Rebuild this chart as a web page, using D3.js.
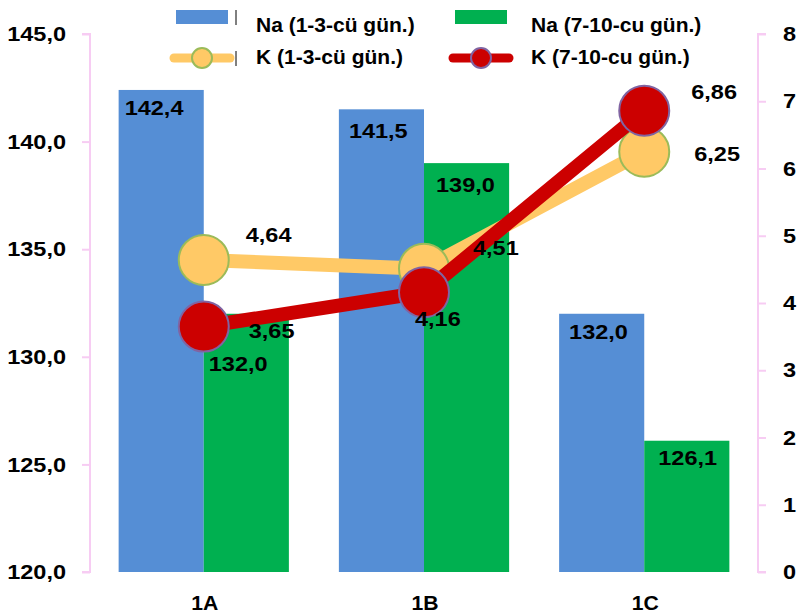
<!DOCTYPE html>
<html>
<head>
<meta charset="utf-8">
<script src="https://cdn.jsdelivr.net/npm/d3@7"></script>
<style>
  body { margin: 0; background: #fff; }
  text { font-family: "Liberation Sans", Arial, sans-serif; font-weight: bold; fill: #000; }
</style>
</head>
<body>
<div id="container"></div>
<script>
const categories = ["1A", "1B", "1C"];
const naEarly = [142.4, 141.5, 132.0];
const naLate = [132.0, 139.0, 126.1];
const kEarly = [4.64, 4.51, 6.25];
const kLate = [3.65, 4.16, 6.86];
const leftTicks = [120, 125, 130, 135, 140, 145];
const rightTicks = [0, 1, 2, 3, 4, 5, 6, 7, 8];

const width = 797;
const height = 613;
const plotLeft = 90;
const plotRight = 758;
const plotTop = 34;
const plotBottom = 572;
const sx = 1.12; // horizontal stretch of numeric labels

const blue = "#558ED5";
const green = "#00B050";
const yellow = "#FFC966";
const red = "#CC0000";
const axisColor = "#F7CCF3";

const svg = d3
  .select("#container")
  .append("svg")
  .attr("width", width)
  .attr("height", height);

const x = d3.scaleBand().domain(categories).range([plotLeft, plotRight]).paddingInner(0.227).paddingOuter(0.13);
const xSub = d3.scaleBand().domain([0, 1]).range([0, x.bandwidth()]);
const yL = d3.scaleLinear().domain([120, 145]).range([plotBottom, plotTop]);
const yR = d3.scaleLinear().domain([0, 8]).range([plotBottom, plotTop]);
const fmt1 = (v) => v.toFixed(1).replace(".", ",");
const fmt2 = (v) => v.toFixed(2).replace(".", ",");

// left axis
const axL = svg.append("g").attr("transform", `translate(${plotLeft},0)`)
  .call(d3.axisLeft(yL).tickValues(leftTicks).tickSize(8).tickFormat(fmt1));
axL.select(".domain").attr("stroke", axisColor).attr("stroke-width", 2).attr("d", `M-8,${plotTop}H0V${plotBottom}H-8`);
axL.selectAll(".tick line").attr("stroke", axisColor).attr("stroke-width", 2);
axL.selectAll(".tick text").attr("x", -24 / sx).attr("transform", `scale(${sx},1)`).attr("font-size", 21)
  .attr("font-family", "Liberation Sans").attr("font-weight", "bold").attr("fill", "#000");

// right axis
const axR = svg.append("g").attr("transform", `translate(${plotRight},0)`)
  .call(d3.axisRight(yR).tickValues(rightTicks).tickSize(8).tickFormat(d3.format("d")));
axR.select(".domain").attr("stroke", axisColor).attr("stroke-width", 2).attr("d", `M8,${plotTop}H0V${plotBottom}H8`);
axR.selectAll(".tick line").attr("stroke", axisColor).attr("stroke-width", 2);
axR.selectAll(".tick text").attr("x", 25 / sx).attr("transform", `scale(${sx},1)`).attr("font-size", 21)
  .attr("font-family", "Liberation Sans").attr("font-weight", "bold").attr("fill", "#000");

// bars
const barSeries = [
  { values: naEarly, color: blue },
  { values: naLate, color: green },
];
barSeries.forEach((s, si) => {
  svg.append("g").selectAll("rect").data(s.values).enter().append("rect")
    .attr("x", (d, i) => x(categories[i]) + xSub(si))
    .attr("y", (d) => yL(d))
    .attr("width", xSub.bandwidth())
    .attr("height", (d) => yL(120) - yL(d))
    .attr("fill", s.color);
});

// category labels
svg.append("g").selectAll("text").data(categories).enter().append("text")
  .attr("transform", (d) => `translate(${x(d) + x.bandwidth() / 2 + 1},610) scale(1.06,1)`)
  .attr("text-anchor", "middle")
  .attr("font-size", 20)
  .text((d) => d);

// lines
const lineSeries = [
  { values: kEarly, color: yellow, stroke: "#9BBB59" },
  { values: kLate, color: red, stroke: "#8064A2" },
];
const cx = (i) => x(categories[i]) + x.bandwidth() / 2;
const line = d3.line().x((d, i) => cx(i)).y((d) => yR(d));
lineSeries.forEach((s) => {
  svg.append("path").datum(s.values)
    .attr("d", line)
    .attr("fill", "none")
    .attr("stroke", s.color)
    .attr("stroke-width", 14)
    .attr("stroke-linejoin", "round");
  svg.append("g").selectAll("circle").data(s.values).enter().append("circle")
    .attr("cx", (d, i) => cx(i))
    .attr("cy", (d) => yR(d))
    .attr("r", 25)
    .attr("fill", s.color)
    .attr("stroke", s.stroke)
    .attr("stroke-width", 2);
});

// bar value labels (baseline offset below bar top)
const barLabelDy = [[25, 29, 25], [57, 29, 24]];
const barLabelDx = [[6, 10, 10], [5, 12, 14]];
barSeries.forEach((s, si) => {
  svg.append("g").selectAll("text").data(s.values).enter().append("text")
    .attr("transform", (d, i) =>
      `translate(${x(categories[i]) + xSub(si) + barLabelDx[si][i]},${yL(d) + barLabelDy[si][i]}) scale(${sx},1)`)
    .attr("font-size", 21)
    .text((d) => fmt1(d));
});

// line value labels
const kEarlyOffset = [[42, -18], [49, -14], [50, 9]];
const kLateOffset = [[45, 11], [-9, 34], [47, -12]];
[[kEarly, kEarlyOffset], [kLate, kLateOffset]].forEach(([vals, offs]) => {
  svg.append("g").selectAll("text").data(vals).enter().append("text")
    .attr("transform", (d, i) => `translate(${cx(i) + offs[i][0]},${yR(d) + offs[i][1]}) scale(${sx},1)`)
    .attr("font-size", 21)
    .text((d) => fmt2(d));
});

// legend
const legendData = [
  { label: "Na (1-3-cü gün.)", color: blue, type: "bar", x: 176, y: 17, tx: 80, ty: 32 },
  { label: "Na (7-10-cu gün.)", color: green, type: "bar", x: 455, y: 17, tx: 76, ty: 32 },
  { label: "K (1-3-cü gün.)", color: yellow, stroke: "#9BBB59", type: "line", x: 174, y: 58, tx: 82, ty: 64 },
  { label: "K (7-10-cu gün.)", color: red, stroke: "#8064A2", type: "line", x: 453, y: 58, tx: 78, ty: 64 },
];
const legend = svg.append("g").attr("id", "legend");
legendData.forEach((d) => {
  const g = legend.append("g").attr("transform", `translate(${d.x},${d.y})`);
  if (d.type === "bar") {
    g.append("rect").attr("x", 0).attr("y", -7).attr("width", 52).attr("height", 14).attr("fill", d.color);
  } else {
    g.append("line").attr("x1", 0).attr("x2", 56).attr("y1", 0).attr("y2", 0)
      .attr("stroke", d.color).attr("stroke-width", 9).attr("stroke-linecap", "round");
    g.append("circle").attr("cx", 28).attr("cy", 0).attr("r", 10)
      .attr("fill", d.color).attr("stroke", d.stroke).attr("stroke-width", 2);
  }
  if (d.x < 300) {
    g.append("line").attr("x1", 236 - d.x).attr("x2", 236 - d.x).attr("y1", -7).attr("y2", 8)
      .attr("stroke", "#000").attr("stroke-width", 1);
  }
  g.append("text").attr("x", d.tx).attr("y", d.ty - d.y).attr("font-size", 21).text(d.label);
});
</script>
</body>
</html>
